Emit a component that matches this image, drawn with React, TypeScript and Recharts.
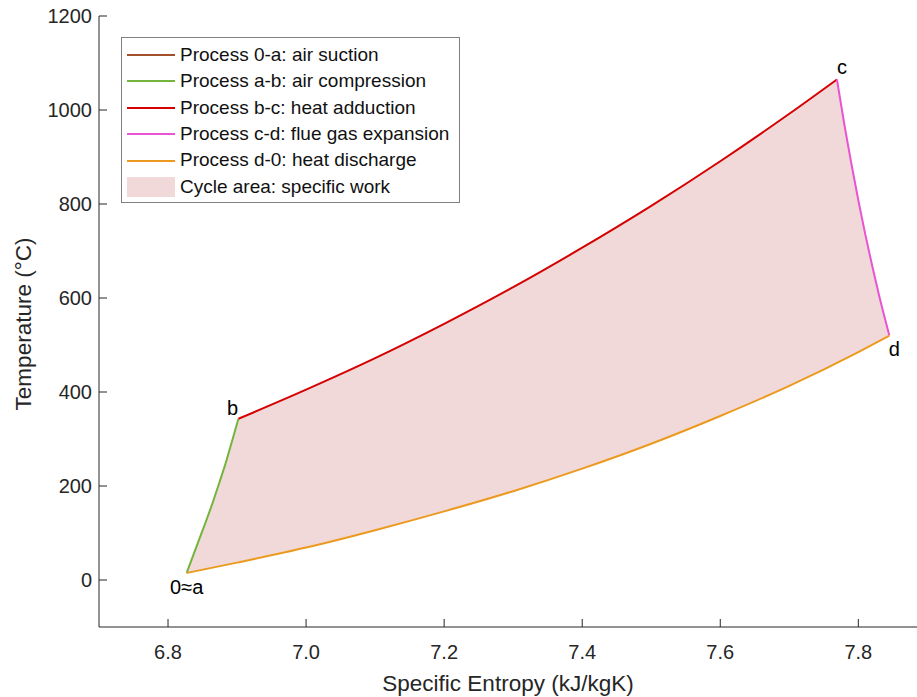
import React from 'react';
import { ScatterChart, Scatter, XAxis, YAxis, Legend, Label, Polygon } from 'recharts';

const FONT = '"Liberation Sans", Arial, Helvetica, sans-serif';
const INK = '#262626';
const CYCLE_FILL = '#f2d9d9';

// state points of the cycle (entropy kJ/kgK, temperature °C)
const stateNames = ['0≈a', 'b', 'c', 'd'];
const stateS = [6.827, 6.902, 7.769, 7.845];
const stateT = [15, 343, 1065, 520];

// 0-a: suction, practically a single point
const suctionS = [6.827, 6.827];
const suctionT = [15, 15];

// a-b: compression
const compressionS = [6.827, 6.845, 6.855, 6.865, 6.875, 6.885, 6.893, 6.902];
const compressionT = [15, 86, 125, 166, 210, 256, 297, 343];

// b-c: heat input at constant pressure
const heatAddS = [6.902, 7.0, 7.1, 7.2, 7.3, 7.4, 7.5, 7.6, 7.7, 7.769];
const heatAddT = [343, 405, 472, 545, 623, 707, 796, 891, 992, 1065];

// c-d: expansion of the flue gas
const expansionS = [7.769, 7.78, 7.79, 7.8, 7.81, 7.82, 7.83, 7.845];
const expansionT = [1065, 967, 885, 808, 736, 669, 606, 520];

// d-0: heat rejection back to ambient
const dischargeS = [7.845, 7.8, 7.7, 7.6, 7.5, 7.4, 7.3, 7.2, 7.1, 7.0, 6.9, 6.827];
const dischargeT = [520, 485, 413, 349, 290, 237, 189, 146, 106, 69, 37, 15];

const xTicks = [6.8, 7.0, 7.2, 7.4, 7.6, 7.8];
const yTicks = [0, 200, 400, 600, 800, 1000, 1200];

type Pt = { s: number; T: number; name?: string };

const toPoints = (s: number[], t: number[]): Pt[] => s.map((v, i) => ({ s: v, T: t[i] }));

const processes = [
    { name: 'Process 0-a: air suction', color: '#a3502a', data: toPoints(suctionS, suctionT) },
    { name: 'Process a-b: air compression', color: '#72b53a', data: toPoints(compressionS, compressionT) },
    { name: 'Process b-c: heat adduction', color: '#d50000', data: toPoints(heatAddS, heatAddT) },
    { name: 'Process c-d: flue gas expansion', color: '#e854d2', data: toPoints(expansionS, expansionT) },
    { name: 'Process d-0: heat discharge', color: '#eb9a1f', data: toPoints(dischargeS, dischargeT) }
];

// closed outline of the cycle: a-b, b-c, c-d, then d back to 0
const cycleOutline: Pt[] = [
    ...toPoints(compressionS, compressionT),
    ...toPoints(heatAddS, heatAddT).slice(1),
    ...toPoints(expansionS, expansionT).slice(1),
    ...toPoints(dischargeS, dischargeT).slice(1)
];

const statePoints: Pt[] = stateNames.map((n, i) => ({ s: stateS[i], T: stateT[i], name: n }));

// text offsets from each state point
const labelOffset: Record<string, [number, number]> = {
    '0≈a': [0, 21.5],
    b: [-6, -4],
    c: [5, -5.5],
    d: [5, 20.5]
};

const noMarker = () => <g />;

const StateLabel = (props: any) => {
    const name = props.payload?.name as string;
    const [dx, dy] = labelOffset[name] || [0, 0];
    return (
        <text x={props.cx + dx} y={props.cy + dy} textAnchor='middle' fontSize={20} fontFamily={FONT} fill='#000'>
            {name}
        </text>
    );
};

const CycleLegend = () => (
    <div
        style={{
            width: 339,
            height: 166,
            boxSizing: 'border-box',
            border: '1px solid #808080',
            background: '#fff',
            position: 'relative',
            fontFamily: FONT,
            fontSize: 19,
            color: '#111'
        }}
    >
        {processes.map((p, i) => (
            <div key={p.name} style={{ position: 'absolute', left: 0, top: 3.8 + i * 26.4, height: 26.4, lineHeight: '26.4px', whiteSpace: 'nowrap' }}>
                <span style={{ position: 'absolute', left: 5, top: 12.2, width: 48, height: 0, borderTop: `2px solid ${p.color}` }} />
                <span style={{ position: 'absolute', left: 58, top: 0 }}>{p.name}</span>
            </div>
        ))}
        <div style={{ position: 'absolute', left: 0, top: 3.8 + 5 * 26.4, height: 26.4, lineHeight: '26.4px', whiteSpace: 'nowrap' }}>
            <span style={{ position: 'absolute', left: 5, top: 3.2, width: 48, height: 20, background: CYCLE_FILL }} />
            <span style={{ position: 'absolute', left: 58, top: 0 }}>Cycle area: specific work</span>
        </div>
    </div>
);

const XTitle = (props: any) => {
    const vb = props.viewBox || { x: 99, y: 627, width: 818, height: 70 };
    return (
        <text x={vb.x + vb.width / 2} y={vb.y + 64} textAnchor='middle' fontSize={22.5} fontFamily={FONT} fill={INK}>
            Specific Entropy (kJ/kgK)
        </text>
    );
};

const YTitle = (props: any) => {
    const vb = props.viewBox || { x: 0, y: 16, width: 99, height: 611 };
    const cx = 31;
    const cy = vb.y + vb.height / 2 + 2.5;
    return (
        <text x={cx} y={cy} transform={`rotate(-90, ${cx}, ${cy})`} textAnchor='middle' fontSize={22.5} fontFamily={FONT} fill={INK}>
            Temperature (°C)
        </text>
    );
};

export default function App() {
    return (
        <div style={{ width: 917, height: 697, overflow: 'hidden', background: '#fff' }}>
            <style>{'body{margin:0;overflow:hidden;}'}</style>
            <ScatterChart width={917} height={697} margin={{ top: 16, right: 0, bottom: 0, left: 0 }}>
                <XAxis
                    type='number'
                    dataKey='s'
                    domain={[6.7, 7.885]}
                    ticks={xTicks}
                    tickFormatter={(v: number) => v.toFixed(1)}
                    height={70}
                    tickSize={-8}
                    tickMargin={26}
                    axisLine={{ stroke: INK }}
                    tickLine={{ stroke: INK }}
                    tick={{ fill: INK, fontSize: 20, fontFamily: FONT }}
                    allowDataOverflow
                >
                    <Label content={XTitle} />
                </XAxis>
                <YAxis
                    type='number'
                    dataKey='T'
                    domain={[-100, 1200]}
                    ticks={yTicks}
                    width={99}
                    tickSize={-8}
                    tickMargin={15}
                    axisLine={{ stroke: INK }}
                    tickLine={{ stroke: INK }}
                    tick={{ fill: INK, fontSize: 20, fontFamily: FONT }}
                    allowDataOverflow
                >
                    <Label content={YTitle} />
                </YAxis>
                <Legend
                    layout='vertical'
                    align='center'
                    verticalAlign='middle'
                    wrapperStyle={{ left: 121, top: 37, width: 339, height: 166 }}
                    content={() => <CycleLegend />}
                />
                <Scatter
                    data={cycleOutline}
                    shape={noMarker}
                    line={(p: any) => <Polygon points={p.points} fill={CYCLE_FILL} stroke='none' />}
                    lineType='joint'
                    legendType='none'
                    isAnimationActive={false}
                />
                {processes.map((p) => (
                    <Scatter
                        key={p.name}
                        name={p.name}
                        data={p.data}
                        shape={noMarker}
                        line={{ stroke: p.color, strokeWidth: 2 }}
                        lineType='joint'
                        lineJointType='monotoneX'
                        isAnimationActive={false}
                    />
                ))}
                <Scatter data={statePoints} shape={StateLabel} legendType='none' isAnimationActive={false} />
            </ScatterChart>
        </div>
    );
}
